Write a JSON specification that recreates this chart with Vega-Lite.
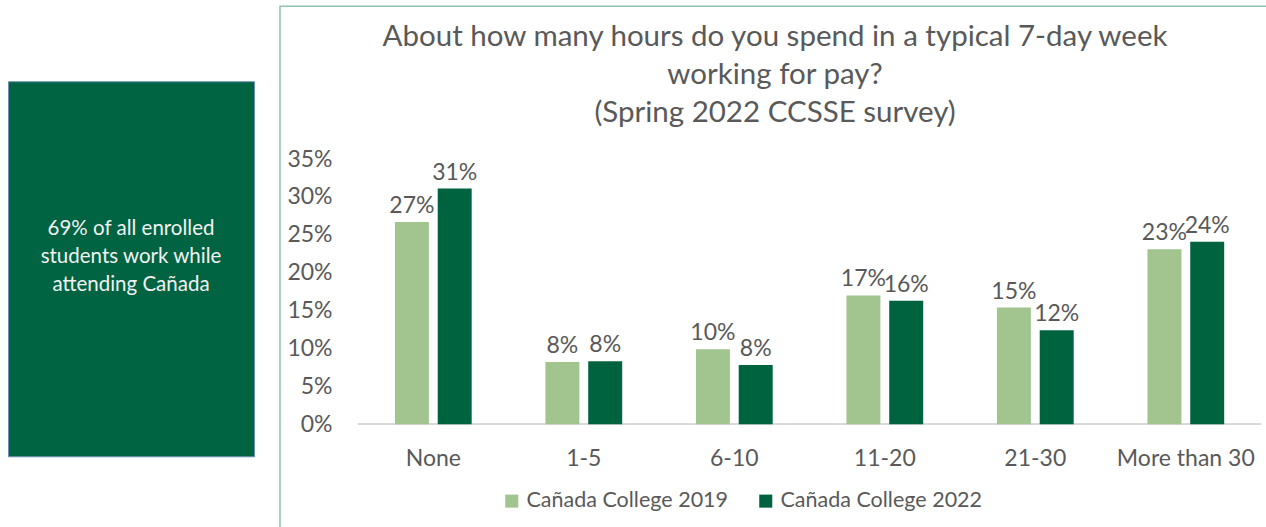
{
  "$schema": "https://vega.github.io/schema/vega-lite/v6.json",
  "padding": {"left": 7, "top": 5, "right": 0, "bottom": 0},
  "background": "white",
  "center": true,
  "spacing": 24,
  "config": {"font": "Lato", "view": {"stroke": null}},
  "hconcat": [
    {
      "width": 246,
      "height": 375,
      "view": {"fill": "#006341", "stroke": "#6a8db0", "strokeWidth": 1},
      "data": {"values": [
        {"text": ["69% of all enrolled", "students work while", "attending Cañada"]}
      ]},
      "mark": {"type": "text", "fontSize": 20.5, "lineHeight": 28, "color": "#f2f2f2", "align": "center", "baseline": "middle", "dy": -40},
      "encoding": {
        "x": {"datum": "box", "type": "nominal", "scale": {"type": "point", "padding": 0.5}, "axis": null},
        "y": {"datum": "box", "type": "nominal", "scale": {"type": "point", "padding": 0.5}, "axis": null},
        "text": {"field": "text"}
      }
    },
    {
      "width": 990,
      "height": 525,
      "view": {"stroke": "#8fc4b0", "strokeWidth": 1.5},
      "title": {
        "text": ["About how many hours do you spend in a typical 7-day week", "working for pay?", "(Spring 2022 CCSSE survey)"],
        "fontSize": 29.5,
        "fontWeight": "normal",
        "color": "#595959",
        "lineHeight": 38,
        "anchor": "middle",
        "offset": -122
      },
      "data": {"values": [
        {"hours": "None", "series": "Cañada College 2019", "pct": 0.267},
        {"hours": "None", "series": "Cañada College 2022", "pct": 0.311},
        {"hours": "1-5", "series": "Cañada College 2019", "pct": 0.082},
        {"hours": "1-5", "series": "Cañada College 2022", "pct": 0.083},
        {"hours": "6-10", "series": "Cañada College 2019", "pct": 0.099},
        {"hours": "6-10", "series": "Cañada College 2022", "pct": 0.078},
        {"hours": "11-20", "series": "Cañada College 2019", "pct": 0.170},
        {"hours": "11-20", "series": "Cañada College 2022", "pct": 0.163},
        {"hours": "21-30", "series": "Cañada College 2019", "pct": 0.154},
        {"hours": "21-30", "series": "Cañada College 2022", "pct": 0.124},
        {"hours": "More than 30", "series": "Cañada College 2019", "pct": 0.231},
        {"hours": "More than 30", "series": "Cañada College 2022", "pct": 0.241}
      ]},
      "encoding": {
        "x": {
          "field": "hours",
          "type": "nominal",
          "sort": ["None", "1-5", "6-10", "11-20", "21-30", "More than 30"],
          "scale": {"paddingInner": 0.49, "paddingOuter": 0.534, "align": 0.715},
          "axis": {"title": null, "labelAngle": 0, "domain": false, "ticks": false, "offset": -107, "labelPadding": 23, "labelFontSize": 23, "labelColor": "#595959"}
        },
        "y": {
          "field": "pct",
          "type": "quantitative",
          "scale": {"domain": [-0.1413, 0.552], "nice": false, "zero": false},
          "axis": {"values": [0, 0.05, 0.1, 0.15, 0.2, 0.25, 0.3, 0.35], "format": ".0%", "title": null, "domain": false, "ticks": false, "grid": false, "offset": -54, "labelPadding": 2, "labelFontSize": 23, "labelColor": "#595959"}
        }
      },
      "layer": [
        {
          "mark": {"type": "rule", "color": "#d9d9d9", "strokeWidth": 1.5},
          "encoding": {
            "x": {"datum": "None", "type": "nominal", "bandPosition": -0.48},
            "x2": {"datum": "More than 30", "bandPosition": 1.48},
            "y": {"datum": 0, "type": "quantitative"}
          }
        },
        {
          "mark": {"type": "bar"},
          "encoding": {
            "xOffset": {"field": "series", "type": "nominal", "scale": {"paddingInner": 0.206}},
            "y2": {"datum": 0},
            "color": {
              "field": "series",
              "type": "nominal",
              "scale": {"domain": ["Cañada College 2019", "Cañada College 2022"], "range": ["#a2c48f", "#006340"]},
              "legend": {"orient": "none", "legendX": 493, "legendY": 484, "direction": "horizontal", "title": null, "symbolType": "square", "symbolSize": 170, "symbolStrokeWidth": 0, "labelFontSize": 21.5, "labelLimit": 400, "labelColor": "#595959", "columnPadding": 26}
            }
          }
        },
        {
          "mark": {"type": "text", "baseline": "bottom", "dy": -4, "fontSize": 23, "color": "#595959"},
          "encoding": {
            "xOffset": {"field": "series", "type": "nominal", "scale": {"paddingInner": 0.206}},
            "text": {"field": "pct", "type": "quantitative", "format": ".0%"}
          }
        }
      ]
    }
  ]
}
